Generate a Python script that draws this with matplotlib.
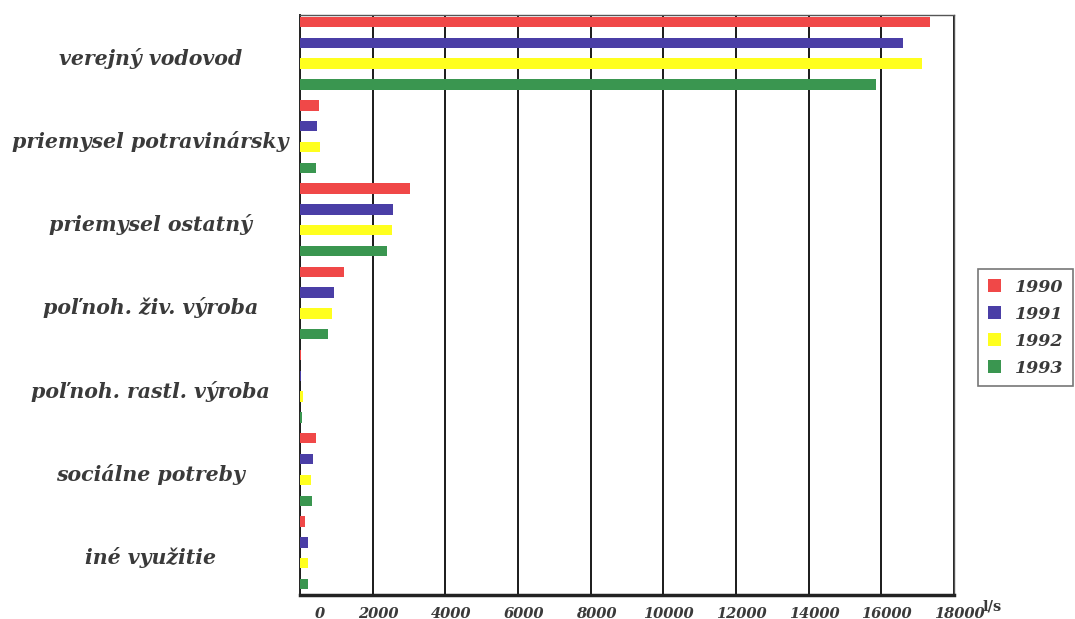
import matplotlib
matplotlib.use("Agg")
import matplotlib.pyplot as plt
from matplotlib.patches import Patch
import numpy as np

categories = ["verejný vodovod", "priemysel potravinársky", "priemysel ostatný",
              "poľnoh. živ. výroba", "poľnoh. rastl. výroba", "sociálne potreby",
              "iné využitie"]
years = ["1990", "1991", "1992", "1993"]
v1990 = [17330, 520, 3030, 1200, 30, 440, 140]
v1991 = [16600, 480, 2560, 930, 15, 370, 220]
v1992 = [17120, 560, 2540, 880, 70, 290, 220]
v1993 = [15850, 430, 2400, 780, 60, 340, 220]
series = [v1990, v1991, v1992, v1993]
colors = ["#f04848", "#4a3ea6", "#ffff1e", "#3a9650"]
xticks = [0, 2000, 4000, 6000, 8000, 10000, 12000, 14000, 16000, 18000]

fnt = "DejaVu Serif"
txtc = "#3a3a3a"

fig = plt.figure(figsize=(10.75, 6.19), dpi=100)
ax = fig.add_axes([300/1075, 1-595/619, 654/1075, 580/619])

n = len(categories)
for s, (vals, c) in enumerate(zip(series, colors)):
    pos = np.arange(n) * 4 + s
    ax.barh(pos, vals, height=0.5, color=c, zorder=3, linewidth=0)

ax.set_xlim(0, 18000)
ax.set_ylim(27 + 0.53, -0.34)
ax.set_xticks(xticks)
ax.set_xticklabels([])
ax.tick_params(axis="x", length=0)
for t in xticks:
    dx = 550 if t == 0 else 150
    ax.text(t + dx, -0.02, str(t), transform=ax.get_xaxis_transform(),
            ha="center", va="top", fontfamily=fnt, fontstyle="italic",
            fontweight="bold", fontsize=10.5, color=txtc)
ax.set_yticks([])
ax.grid(axis="x", color="#1a1a1a", linewidth=1.4, zorder=1)
for side in ["top", "right"]:
    ax.spines[side].set_color("#555555")
    ax.spines[side].set_linewidth(1.0)
ax.spines["left"].set_color("#222222")
ax.spines["left"].set_linewidth(1.4)
ax.spines["bottom"].set_color("#222222")
ax.spines["bottom"].set_linewidth(2.5)

for k, name in enumerate(categories):
    ax.text(-0.229, 4 * k + 1.73, name, transform=ax.get_yaxis_transform(),
            ha="center", va="center", fontfamily=fnt, fontstyle="italic",
            fontweight="bold", fontsize=14.8, color=txtc)

fig.text(992/1075, 1-607/619, "l/s", ha="center", va="center", fontfamily=fnt,
         fontweight="bold", fontsize=10.5, color=txtc)

handles = [Patch(facecolor=c, edgecolor="none") for c in colors]
leg = fig.legend(handles, years, loc="upper left",
                 bbox_to_anchor=(978/1075, 1-269/619), frameon=True,
                 prop={"family": fnt, "style": "italic", "weight": "bold", "size": 12.5},
                 handlelength=0.8, handleheight=0.8, handletextpad=0.8,
                 labelspacing=0.58, borderpad=0.55, fancybox=False, borderaxespad=0)
leg.get_frame().set_edgecolor("#555555")
leg.get_frame().set_linewidth(1.2)
for t in leg.get_texts():
    t.set_color(txtc)

fig.savefig("out.png", dpi=100)
